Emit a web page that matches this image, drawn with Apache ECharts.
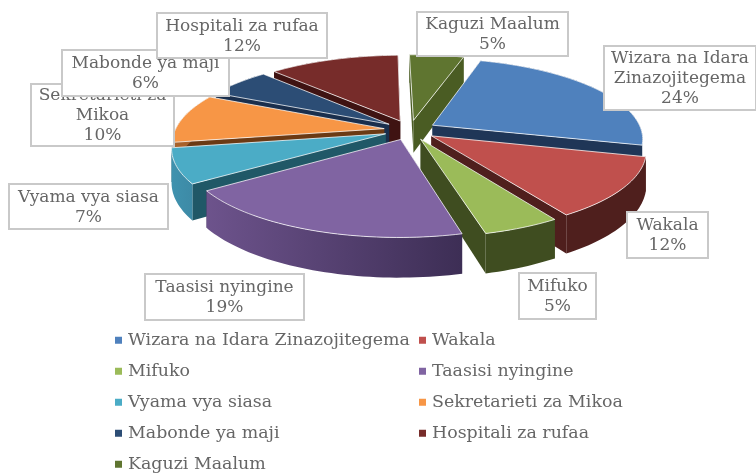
<!DOCTYPE html>
<html>
<head>
<meta charset="utf-8">
<style>
html, body { margin: 0; padding: 0; background: #fff; }
#main { width: 756px; height: 473px; }
</style>
<script src="https://cdn.jsdelivr.net/npm/echarts@6/dist/echarts.min.js"></script>
</head>
<body>
<div id="main"></div>
<script>
var categories = ['Wizara na Idara Zinazojitegema', 'Wakala', 'Mifuko', 'Taasisi nyingine', 'Vyama vya siasa', 'Sekretarieti za Mikoa', 'Mabonde ya maji', 'Hospitali za rufaa', 'Kaguzi Maalum'];
var shares = [24.4, 12.0, 5.0, 19.4, 6.9, 9.8, 5.8, 11.8, 4.9];
var labelTexts = ['Wizara na Idara\nZinazojitegema', 'Wakala', 'Mifuko', 'Taasisi nyingine', 'Vyama vya siasa', 'Sekretarieti za\nMikoa', 'Mabonde ya maji', 'Hospitali za rufaa', 'Kaguzi Maalum'];

var topColors = ['#4f81bd', '#c0504d', '#9bbb59', '#8064a2', '#4bacc6', '#f79646', '#2c4d75', '#772c2a', '#5f7530'];
var sideColors = ['#1f3657', '#4f1f1d', '#3f4d20', '#3d2e55', '#205867', '#6b3a14', '#1a2f4d', '#3f1312', '#4a5c23'];
var outerFrom = ['#1f3657', '#4f1f1d', '#3f4d20', '#6d538c', '#3f92ae', '#a8612a', '#1a2f4d', '#3f1312', '#4a5c23'];
var outerTo = ['#1f3657', '#4f1f1d', '#3f4d20', '#3d2e55', '#3d8aa6', '#a8612a', '#1a2f4d', '#3f1312', '#4a5c23'];
// back to front
var drawOrder = [7, 8, 6, 0, 5, 4, 1, 2, 3];
// label boxes: x, y, w, h
var labelBoxes = [
    [604, 46, 152, 64], [627, 212, 81, 46], [519, 273, 77, 46], [145, 274, 159, 46], [9, 184, 159, 45],
    [31, 84, 143, 62], [62, 50, 167, 46], [157, 13, 170, 45], [417, 12, 151, 44]
];
var labelOrder = [0, 1, 2, 3, 4, 5, 6, 7, 8];

var FONT = '"DejaVu Serif", serif';
var CX = 410, CY = 130, R = 209, RY = 79, PERSP = 0.16, EXPLODE = 0.125, DEPTH = 33, START = 16.5;

var total = shares.reduce(function (a, b) { return a + b; }, 0);

function project(u, v, drop) {
    var s = 1 / (1 - PERSP * v);
    return [CX + R * u * s, CY + RY * v * s + (drop ? DEPTH * s : 0)];
}

function sliceStart(index) {
    var before = 0;
    for (var i = 0; i < index; i++) before += shares[i];
    return START + before / total * 360;
}

function sliceRender(index) {
    return function (params, api) {
        var value = api.value(0);
        var a0 = sliceStart(index);
        var a1 = a0 + value / total * 360;
        var mid = (a0 + a1) / 2 * Math.PI / 180;
        var ox = EXPLODE * Math.sin(mid), oy = -EXPLODE * Math.cos(mid);
        var topArc = [], lowArc = [];
        for (var d = a0; d < a1; d += 1.5) {
            var t = d * Math.PI / 180;
            topArc.push(project(ox + Math.sin(t), oy - Math.cos(t), false));
            lowArc.push(project(ox + Math.sin(t), oy - Math.cos(t), true));
        }
        var te = a1 * Math.PI / 180;
        topArc.push(project(ox + Math.sin(te), oy - Math.cos(te), false));
        lowArc.push(project(ox + Math.sin(te), oy - Math.cos(te), true));
        var apexTop = project(ox, oy, false), apexLow = project(ox, oy, true);
        var last = topArc.length - 1;
        var gradient = new echarts.graphic.LinearGradient(0, 0, 1, 0, [
            { offset: 0, color: outerFrom[index] }, { offset: 1, color: outerTo[index] }
        ]);
        var edge = 'rgba(255,255,255,0.75)';
        return {
            type: 'group',
            children: [
                { type: 'polygon', shape: { points: [apexTop, topArc[0], lowArc[0], apexLow] }, style: { fill: sideColors[index] }, z2: 1 },
                { type: 'polygon', shape: { points: [apexTop, topArc[last], lowArc[last], apexLow] }, style: { fill: sideColors[index] }, z2: 1 },
                { type: 'polygon', shape: { points: topArc.concat(lowArc.slice().reverse()) }, style: { fill: gradient }, z2: 2 },
                { type: 'polygon', shape: { points: [apexTop].concat(topArc) }, style: { fill: topColors[index], stroke: edge, lineWidth: 1 }, z2: 3 }
            ]
        };
    };
}

function labelRender(params, api) {
    var i = api.value(0);
    var b = labelBoxes[i];
    var text = labelTexts[i] + '\n' + Math.round(shares[i] / total * 100) + '%';
    return {
        type: 'group',
        children: [
            { type: 'rect', shape: { x: b[0], y: b[1], width: b[2], height: b[3] }, style: { fill: '#fff', stroke: '#c9c9c9', lineWidth: 2 }, z2: i * 2 },
            { type: 'text', x: b[0] + b[2] / 2, y: b[1] + b[3] / 2 + 1, style: { text: text, font: '17px ' + FONT, fill: '#666666', align: 'center', verticalAlign: 'middle', lineHeight: 20 }, z2: i * 2 + 1 }
        ]
    };
}

var seriesList = categories.map(function (name, i) {
    return {
        type: 'custom',
        name: name,
        coordinateSystem: 'none',
        z: 2 + drawOrder.indexOf(i),
        itemStyle: { color: topColors[i] },
        renderItem: sliceRender(i),
        data: [[shares[i]]],
        silent: true,
        animation: false
    };
});
seriesList.push({
    type: 'custom',
    name: 'labels',
    coordinateSystem: 'none',
    z: 30,
    renderItem: labelRender,
    data: labelOrder.map(function (i) { return [i]; }),
    silent: true,
    animation: false
});

function legendFor(names, left) {
    return {
        orient: 'vertical',
        left: left,
        top: 331,
        height: 200,
        itemWidth: 7,
        itemHeight: 7,
        itemGap: 12.5,
        icon: 'rect',
        selectedMode: false,
        padding: 0,
        textStyle: { fontFamily: FONT, fontSize: 17.4, color: '#666666', padding: [0, 0, 0, 1], height: 18.5, lineHeight: 18.5 },
        data: names
    };
}

var myChart = echarts.init(document.getElementById('main'), null, { renderer: 'canvas' });
var option = {
    animation: false,
    legend: [
        legendFor(categories.filter(function (n, i) { return i % 2 === 0; }), 115),
        legendFor(categories.filter(function (n, i) { return i % 2 === 1; }), 419)
    ],
    series: seriesList
};
myChart.setOption(option);
window.addEventListener('resize', myChart.resize);
</script>
</body>
</html>
